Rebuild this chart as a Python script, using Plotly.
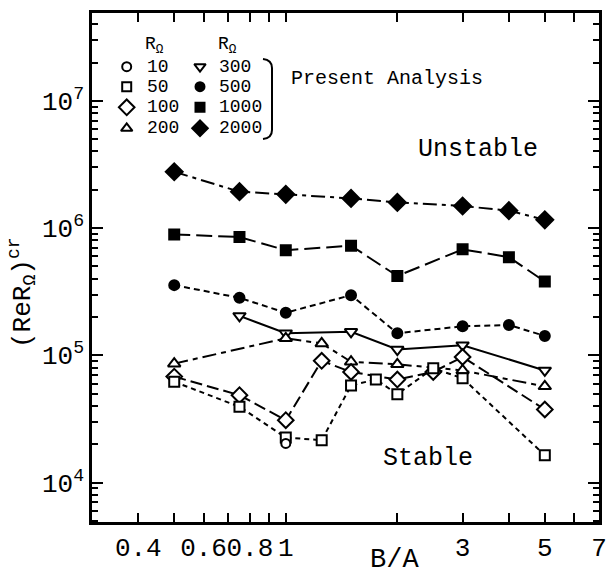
import plotly.graph_objects as go

# ---------------- data ----------------
x_main = [0.5, 0.75, 1, 1.5, 2, 3, 4, 5]
R2000 = [2.77e6, 1.93e6, 1.84e6, 1.71e6, 1.59e6, 1.49e6, 1.37e6, 1.16e6]
R1000 = [8.9e5, 8.5e5, 6.7e5, 7.26e5, 4.2e5, 6.8e5, 5.9e5, 3.8e5]
R500 = [3.56e5, 2.83e5, 2.16e5, 2.97e5, 1.49e5, 1.69e5, 1.73e5, 1.42e5]
x300 = [0.75, 1, 1.5, 2, 3, 5]
R300 = [2.04e5, 1.49e5, 1.53e5, 1.11e5, 1.20e5, 7.6e4]
x200 = [0.5, 1, 1.25, 1.5, 2, 3, 5]
R200 = [8.6e4, 1.36e5, 1.24e5, 8.9e4, 8.5e4, 7.6e4, 5.7e4]
x100 = [0.5, 0.75, 1, 1.25, 1.5, 2, 2.5, 3, 5]
R100 = [6.8e4, 4.86e4, 3.09e4, 9.05e4, 7.4e4, 6.45e4, 7.4e4, 9.7e4, 3.75e4]
x50 = [0.5, 0.75, 1, 1.25, 1.5, 1.75, 2, 2.5, 3, 5]
R50 = [6.2e4, 3.94e4, 2.26e4, 2.15e4, 5.8e4, 6.45e4, 4.95e4, 7.9e4, 6.6e4, 1.64e4]
x10 = [1]
R10 = [2.03e4]

x_tickvals = [0.4, 0.6, 0.8, 1, 3, 5, 7]
x_ticktext = ["0.4", "0.6", "0.8", "1", "3", "5", "7"]
x_minor = [0.5, 0.7, 0.9, 2, 4, 6]
y_tickvals = [1e4, 1e5, 1e6, 1e7]
y_ticktext = ["10<sup>4</sup>", "10<sup>5</sup>", "10<sup>6</sup>", "10<sup>7</sup>"]
y_minor = [k * 10 ** d for d in range(3, 8) for k in range(2, 10)]

legend_col1 = ["10", "50", "100", "200"]
legend_col2 = ["300", "500", "1000", "2000"]

FONT = "Liberation Mono"
BLACK = "black"

fig = go.Figure()

def series(x, y, symbol, size, dash, filled):
    fig.add_trace(go.Scatter(
        x=x, y=y, mode="lines+markers",
        line=dict(color=BLACK, width=2, dash=dash),
        marker=dict(symbol=symbol, size=size,
                    color=BLACK if filled else "white",
                    line=dict(color=BLACK, width=2)),
        showlegend=False))

series(x_main, R2000, "diamond", 13, "14px,5px,4px,5px", True)
series(x_main, R1000, "square", 10, "16px,6px", True)
series(x_main, R500, "circle", 10, "6px,4px", True)
series(x300, R300, "triangle-down", 11, "solid", False)
series(x200, R200, "triangle-up", 11, "14px,5px,5px,5px", False)
series(x100, R100, "diamond", 12, "12px,5px", False)
series(x50, R50, "square", 10, "5px,4px", False)
series(x10, R10, "circle", 9, "solid", False)

# --------- legend (drawn on a hidden overlay axis in paper-like units) ---------
L, R_, T, B = 92, 599, 13, 522
W, H = R_ - L, B - T
def px(xp):
    return (xp - L) / W
def py(yp):
    return (B - yp) / H

rows = [66.7, 86.7, 107.3, 128.3]
col1_sym = [("circle", 9, False), ("square", 9, False), ("diamond", 12, False), ("triangle-up", 10, False)]
col2_sym = [("triangle-down", 10, False), ("circle", 9, True), ("square", 9, True), ("diamond", 12, True)]
for (sym, sz, filled), r in zip(col1_sym, rows):
    fig.add_trace(go.Scatter(x=[px(126.7)], y=[py(r)], xaxis="x2", yaxis="y2", mode="markers",
                             marker=dict(symbol=sym, size=sz, color=BLACK if filled else "white",
                                         line=dict(color=BLACK, width=2)), showlegend=False))
for (sym, sz, filled), r in zip(col2_sym, rows):
    fig.add_trace(go.Scatter(x=[px(200)], y=[py(r)], xaxis="x2", yaxis="y2", mode="markers",
                             marker=dict(symbol=sym, size=sz, color=BLACK if filled else "white",
                                         line=dict(color=BLACK, width=2)), showlegend=False))

ann = []
for t, r in zip(legend_col1, rows):
    ann.append(dict(x=px(145), y=py(r), text=t, xanchor="left", yanchor="middle", font=dict(size=18)))
for t, r in zip(legend_col2, rows):
    ann.append(dict(x=px(216.5), y=py(r), text=t, xanchor="left", yanchor="middle", font=dict(size=18)))
ann.append(dict(x=px(143), y=py(46), text="R<sub>Ω</sub>", xanchor="left", yanchor="middle", font=dict(size=18)))
ann.append(dict(x=px(216), y=py(46), text="R<sub>Ω</sub>", xanchor="left", yanchor="middle", font=dict(size=18)))
ann.append(dict(x=px(289), y=py(79), text="Present Analysis", xanchor="left", yanchor="middle", font=dict(size=20)))
ann.append(dict(x=px(477.5), y=py(149.3), text="Unstable", xanchor="center", yanchor="middle", font=dict(size=25)))
ann.append(dict(x=px(428), y=py(458), text="Stable", xanchor="center", yanchor="middle", font=dict(size=25)))
ann.append(dict(x=px(22), y=py(293), text="(ReR<sub>Ω</sub>)<sup>cr</sup>", textangle=-90,
                xanchor="center", yanchor="middle", font=dict(size=26)))
ann.append(dict(x=px(394), y=py(560), text="B/A", xanchor="center", yanchor="middle", font=dict(size=27)))
for a in ann:
    a.update(xref="paper", yref="paper", showarrow=False)
    a["font"].update(family=FONT, color=BLACK)

bracket = (f"M {px(263)},{py(59)} Q {px(272)},{py(60)} {px(272)},{py(68)} "
           f"L {px(272)},{py(130)} Q {px(272)},{py(138)} {px(263)},{py(139)}")

fig.update_layout(
    width=608, height=576,
    margin=dict(l=L, r=608 - R_, t=T, b=576 - B, autoexpand=False),
    paper_bgcolor="white", plot_bgcolor="white",
    showlegend=False,
    font=dict(family=FONT, color=BLACK),
    annotations=ann,
    shapes=[dict(type="path", path=bracket, xref="paper", yref="paper",
                 line=dict(color=BLACK, width=2))],
    xaxis=dict(type="log", range=[-0.5229, 0.8452], showgrid=False, zeroline=False,
               showline=True, linecolor=BLACK, linewidth=2.5, mirror="ticks",
               ticks="inside", ticklen=9, tickwidth=2, tickcolor=BLACK,
               tickmode="array", tickvals=x_tickvals, ticktext=x_ticktext,
               tickangle=0, automargin=False,
               tickfont=dict(family=FONT, size=26, color=BLACK),
               minor=dict(tickmode="array", tickvals=x_minor, ticks="inside",
                          ticklen=9, tickwidth=2, tickcolor=BLACK, showgrid=False)),
    yaxis=dict(type="log", range=[3.69, 7.69], showgrid=False, zeroline=False,
               showline=True, linecolor=BLACK, linewidth=2.5, mirror="ticks",
               ticks="inside", ticklen=11, tickwidth=2, tickcolor=BLACK,
               tickmode="array", tickvals=y_tickvals, ticktext=y_ticktext,
               automargin=False,
               tickfont=dict(family=FONT, size=26, color=BLACK),
               minor=dict(tickmode="array", tickvals=y_minor, ticks="inside",
                          ticklen=6, tickwidth=1.5, tickcolor=BLACK, showgrid=False)),
    xaxis2=dict(overlaying="x", range=[0, 1], visible=False, fixedrange=True),
    yaxis2=dict(overlaying="y", range=[0, 1], visible=False, fixedrange=True),
)

fig.write_html("out.html")
